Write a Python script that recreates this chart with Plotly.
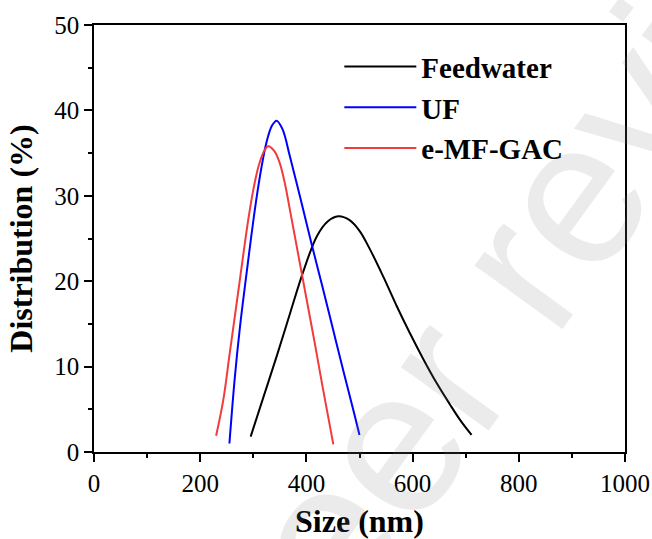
import plotly.graph_objects as go

# Feedwater (black)
feed_x = [295, 320, 345, 370, 395, 420, 440, 460, 480, 500, 520, 545, 570, 595, 620, 645, 670, 690, 711]
feed_y = [1.8, 6.6, 11.4, 16.4, 21.3, 25.3, 27.0, 27.6, 27.2, 25.9, 23.7, 20.5, 17.1, 13.9, 10.9, 8.1, 5.6, 3.7, 2.0]

# UF (blue)
uf_x = [255, 265, 275, 285, 295, 305, 315, 325, 335, 344, 355, 369, 390, 410, 430, 450, 470, 490, 500]
uf_y = [1.0, 8.6, 14.7, 19.8, 24.7, 29.3, 33.2, 36.3, 38.2, 38.8, 37.8, 34.6, 29.4, 24.3, 19.4, 14.4, 9.4, 4.5, 2.0]

# e-MF-GAC (red)
mf_x = [230, 243.5, 255, 265, 275, 290, 300, 310, 320, 328, 340, 350, 360, 370, 385, 400, 415, 430, 450.7]
mf_y = [1.9, 6.1, 11.3, 15.8, 20.3, 27.0, 30.7, 33.5, 35.2, 35.8, 35.2, 33.8, 31.3, 28.0, 23.0, 18.0, 13.0, 7.8, 0.9]

x_ticks = [0, 200, 400, 600, 800, 1000]
y_ticks = [0, 10, 20, 30, 40, 50]

SERIF = "Liberation Serif"

fig = go.Figure()
for name, xs, ys, col in [("Feedwater", feed_x, feed_y, "#000000"),
                          ("UF", uf_x, uf_y, "#0000FF"),
                          ("e-MF-GAC", mf_x, mf_y, "#F03C3C")]:
    fig.add_trace(go.Scatter(x=xs, y=ys, mode="lines", name="<b>" + name + "</b>",
                             line=dict(color=col, width=2, shape="spline", smoothing=1.0)))

axis_common = dict(
    showgrid=False, zeroline=False, showline=True, linecolor="black", linewidth=1.5,
    mirror=True, ticks="outside", ticklen=8, tickwidth=1.5, tickcolor="black",
    tickfont=dict(family=SERIF, size=25, color="black"), automargin=False,
)
fig.update_xaxes(range=[0, 1000], tickvals=x_ticks,
                 minor=dict(ticks="outside", ticklen=4, tickwidth=1.5, tickcolor="black", dtick=100, tick0=0),
                 title=dict(text="<b>Size (nm)</b>", font=dict(family=SERIF, size=32, color="black"), standoff=14),
                 **axis_common)
fig.update_yaxes(range=[0, 50], tickvals=y_ticks,
                 minor=dict(ticks="outside", ticklen=4, tickwidth=1.5, tickcolor="black", dtick=5, tick0=0),
                 title=dict(text="<b>Distribution (%)</b>", font=dict(family=SERIF, size=32, color="black"), standoff=12),
                 **axis_common)

fig.update_layout(
    width=652, height=539,
    margin=dict(l=94, r=27, t=25, b=87),
    paper_bgcolor="white", plot_bgcolor="white",
    showlegend=True,
    legend=dict(x=0.462, y=0.962, xanchor="left", yanchor="top",
                bgcolor="rgba(0,0,0,0)", borderwidth=0,
                font=dict(family=SERIF, size=29, color="black"),
                itemwidth=72, tracegroupgap=0),
    annotations=[dict(text="Peer review", xref="paper", yref="paper",
                      x=0.815, y=0.457, xanchor="center", yanchor="middle",
                      showarrow=False, textangle=-54,
                      font=dict(family="Liberation Sans", size=205, color="rgba(128,128,128,0.16)"))],
)

fig.write_html("out.html")
